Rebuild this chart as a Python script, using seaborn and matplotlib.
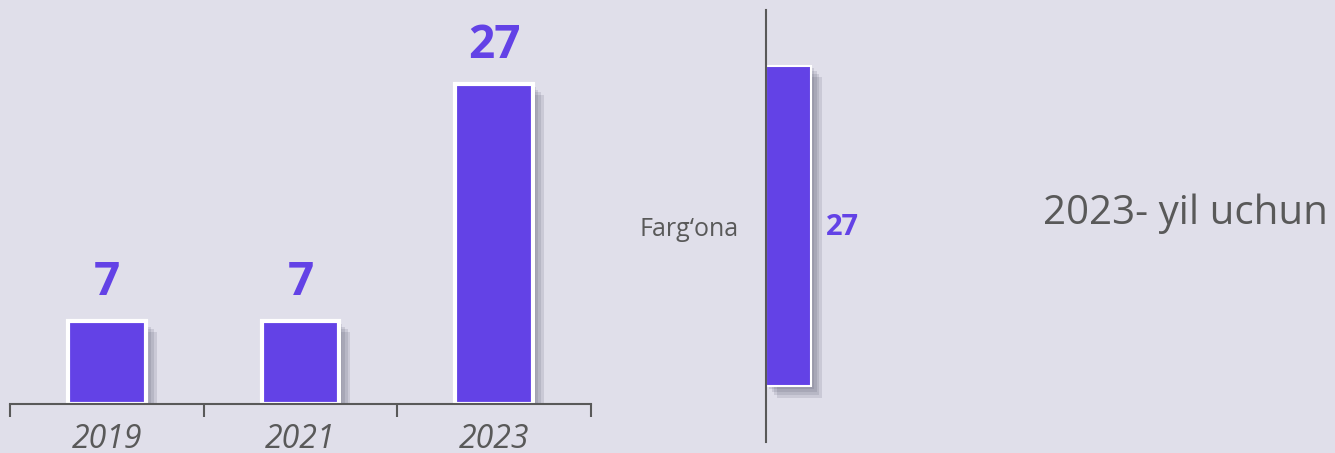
import matplotlib
matplotlib.use("Agg")
import matplotlib.pyplot as plt
import matplotlib.patheffects as pe
import seaborn as sns
import pandas as pd

# data
years = ["2019", "2021", "2023"]
counts = [7, 7, 27]
region = ["Farg‘ona"]
region_count = [27]
side_text = "2023- yil uchun"

bg = "#E0DFEA"
bar_col = "#6342E6"
txt_col = "#595959"

sns.set_theme(style="white")
plt.rcParams["font.family"] = ["Open Sans", "DejaVu Sans"]

fig = plt.figure(figsize=(13.35, 4.53), dpi=100)
fig.patch.set_facecolor(bg)

W, H = 1335, 453
# soft-ish shadow: a few stacked offsets
shadow = [pe.SimplePatchShadow(offset=(o, -o), shadow_rgbFace="#4a4a60", alpha=0.14) for o in (2, 4, 6, 8)]
shadow.append(pe.Normal())

# left chart: by year
ax1 = fig.add_axes([10 / W, 49 / H, 581 / W, 404 / H])
ax1.set_facecolor(bg)
df1 = pd.DataFrame({"year": years, "count": counts})
sns.barplot(data=df1, x="year", y="count", color=bar_col, saturation=1,
            width=0.4, edgecolor="white", linewidth=3, ax=ax1)
for p in ax1.patches:
    p.set_path_effects(shadow)
ax1.set_xlim(-0.5, 2.5)
ax1.set_ylim(0, 34.1)
for i, v in enumerate(counts):
    ax1.annotate(str(v), (i, v), xytext=(0, 11), textcoords="offset points",
                 ha="center", va="bottom", fontsize=33, fontweight="bold", color=bar_col)
for s in ["top", "left", "right"]:
    ax1.spines[s].set_visible(False)
ax1.spines["bottom"].set_color(txt_col)
ax1.spines["bottom"].set_linewidth(1.5)
ax1.set_yticks([])
ax1.set_xticks(range(len(years)))
ax1.set_xticklabels(years, fontsize=23, fontstyle="italic", color=txt_col)
ax1.tick_params(axis="x", which="major", length=0, pad=14)
ax1.set_xticks([-0.5, 0.5, 1.5, 2.5], minor=True)
ax1.tick_params(axis="x", which="minor", length=9, width=1.5, color=txt_col, direction="out", bottom=True)
ax1.set_xlabel("")
ax1.set_ylabel("")

# right chart: region
ax2 = fig.add_axes([766 / W, 11 / H, 200 / W, 432 / H])
ax2.set_facecolor("none")
df2 = pd.DataFrame({"region": region, "count": region_count})
sns.barplot(data=df2, y="region", x="count", color=bar_col, saturation=1,
            width=0.743, edgecolor="white", linewidth=1.5, orient="h", ax=ax2)
for p in ax2.patches:
    p.set_path_effects(shadow)
ax2.set_xlim(0, 27 * 200 / 45)
ax2.set_ylim(0.5, -0.5)
for i, v in enumerate(region_count):
    ax2.annotate(str(v), (v, i), xytext=(11, -1), textcoords="offset points",
                 ha="left", va="center", fontsize=21, fontweight="bold", color=bar_col)
for s in ["top", "bottom", "right"]:
    ax2.spines[s].set_visible(False)
ax2.spines["left"].set_color(txt_col)
ax2.spines["left"].set_linewidth(1.5)
ax2.set_xticks([])
ax2.tick_params(axis="y", length=0, pad=20, labelsize=18, labelcolor=txt_col)
ax2.set_xlabel("")
ax2.set_ylabel("")

fig.text(1043 / W, 1 - 214 / H, side_text, fontsize=29, color=txt_col, ha="left", va="center")

fig.savefig("out.png", dpi=100, facecolor=bg)
